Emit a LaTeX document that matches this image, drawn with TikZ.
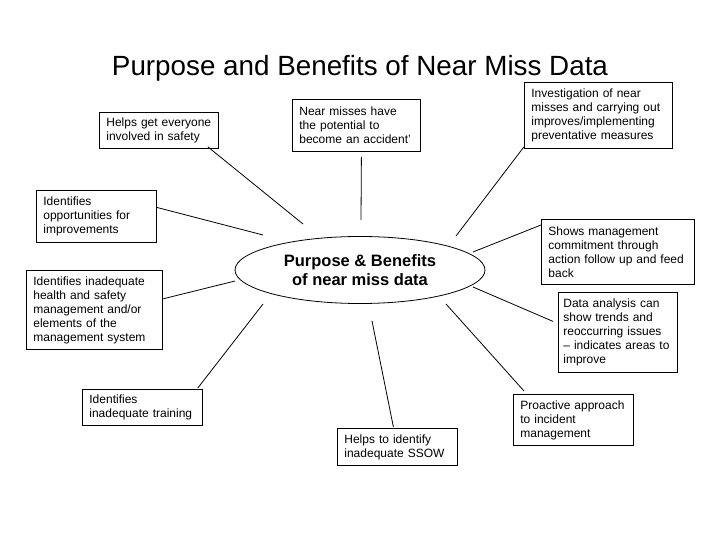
\documentclass[tikz,border=0pt]{standalone}
\usepackage{fontspec}
\setmainfont{Liberation Sans}
\usetikzlibrary{shapes.geometric}
\tikzset{
  note/.style={draw, line width=0.8bp, anchor=north west, align=left,
    inner xsep=7bp, inner ysep=1bp, font=\fontsize{12bp}{14bp}\selectfont},
  spoke/.style={line width=0.8bp},
}
\begin{document}
\begin{tikzpicture}[x=1bp,y=-1bp]
    \useasboundingbox[fill=white] (0,0) rectangle (720,540);
    \node[anchor=base, font=\fontsize{27.8bp}{32bp}\selectfont] (title) at (360,76) {Purpose and Benefits of Near Miss Data};
    % centre
    \node[ellipse, draw, line width=0.8bp, minimum width=250bp, minimum height=67bp, inner sep=0pt,
          align=center, font=\fontsize{16.5bp}{19.5bp}\selectfont\bfseries] (hub) at (360,270)
          {Purpose \& Benefits\\of near miss data};
    % boxes round it
    \node[note, text width=105bp, minimum height=36bp] (helps) at (99,112) {Helps get everyone\\involved in safety};
    \node[note, text width=114bp, minimum height=52bp] (near) at (292,99) {Near misses have\\the potential to\\become an accident'};
    \node[note, text width=134bp, minimum height=66bp] (invest) at (524,82) {Investigation of near\\misses and carrying out\\improves/implementing\\preventative measures};
    \node[note, text width=106bp, minimum height=52bp] (opport) at (36,190) {Identifies\\opportunities for\\improvements};
    \node[note, text width=139bp, minimum height=65bp] (shows) at (541,219) {Shows management\\commitment through\\action follow up and feed\\back};
    \node[note, text width=122bp, minimum height=79bp] (health) at (26,270) {Identifies inadequate\\health and safety\\management and/or\\elements of the\\management system};
    \node[note, inner xsep=5bp, text width=109bp, minimum height=80bp] (data) at (558,292) {Data analysis can\\show trends and\\reoccurring issues\\– indicates areas to\\improve};
    \node[note, text width=106bp, minimum height=36bp] (train) at (82,389) {Identifies\\inadequate training};
    \node[note, text width=106bp, minimum height=37bp] (ssow) at (337,428) {Helps to identify\\inadequate SSOW};
    \node[note, text width=106bp, minimum height=51bp] (proact) at (513,394) {Proactive approach\\to incident\\management};
    % loose ends near the ellipse
    \coordinate (e1) at (303,224);
    \coordinate (e2) at (361,220);
    \coordinate (e3) at (456,236);
    \coordinate (e4) at (263,235);
    \coordinate (e5) at (473,252);
    \coordinate (e6) at (235,281);
    \coordinate (e7) at (473,287);
    \coordinate (e8) at (263,304);
    \coordinate (e9) at (372,321);
    \coordinate (e10) at (446,304);
    \draw[spoke] ([xshift=-11bp,yshift=2bp]helps.south east) -- (e1);
    \draw[spoke] ([xshift=5bp,yshift=-5bp]near.south) -- (e2);
    \draw[spoke] ([yshift=2bp]invest.south west) -- (e3);
    \draw[spoke] ([yshift=9bp]opport.east) -- (e4);
    \draw[spoke] ([yshift=-6bp]shows.north west) -- (e5);
    \draw[spoke] ([yshift=11bp]health.east) -- (e6);
    \draw[spoke] ([xshift=-5bp,yshift=11bp]data.west) -- (e7);
    \draw[spoke] ([xshift=-5bp,yshift=1bp]train.north east) -- (e8);
    \draw[spoke] ([xshift=-4bp,yshift=1bp]ssow.north) -- (e9);
    \draw[spoke] ([xshift=11bp,yshift=3bp]proact.north west) -- (e10);
\end{tikzpicture}
\end{document}
